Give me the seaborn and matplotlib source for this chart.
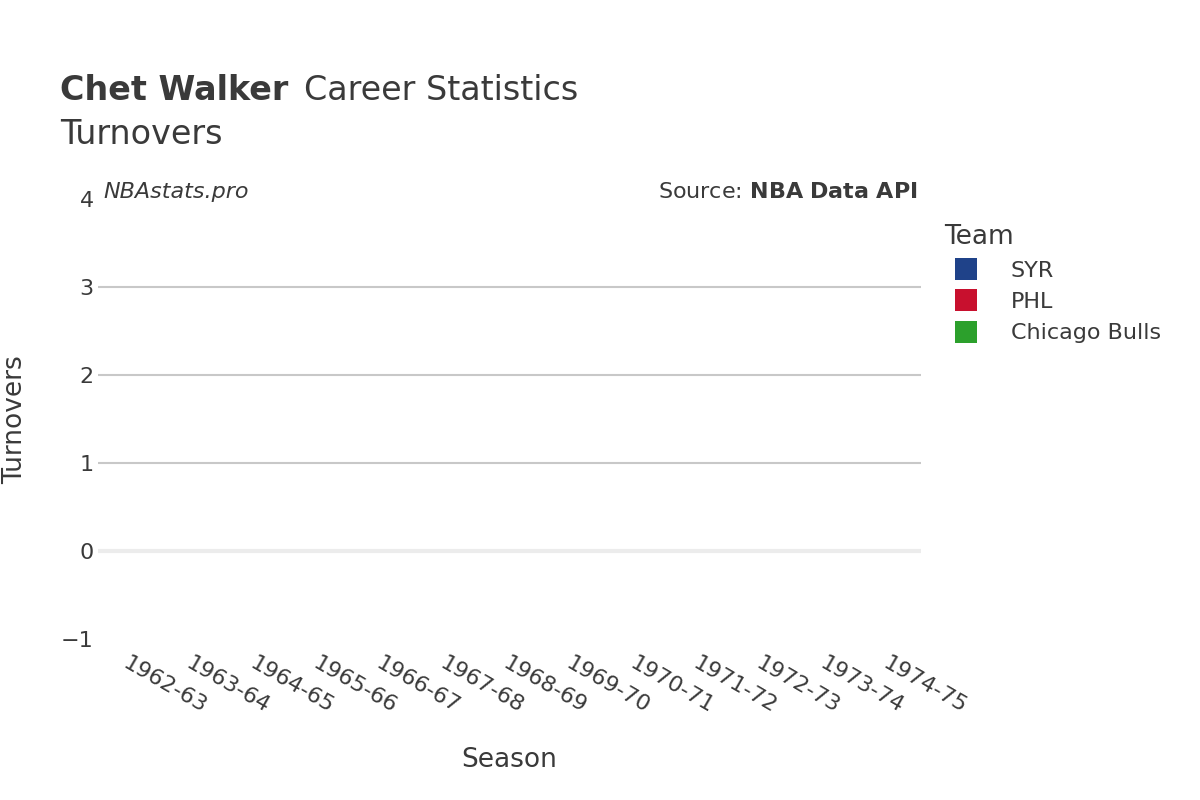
import matplotlib
matplotlib.use("Agg")
import matplotlib.pyplot as plt
import seaborn as sns
from matplotlib.lines import Line2D

# Chart data (no turnover values recorded for these seasons)
seasons = ["1962-63", "1963-64", "1964-65", "1965-66", "1966-67", "1967-68",
           "1968-69", "1969-70", "1970-71", "1971-72", "1972-73", "1973-74", "1974-75"]
teams = ["SYR", "PHL", "Chicago Bulls"]
team_colors = ["#1f4289", "#c8102e", "#2ca02c"]
y_ticks = [-1, 0, 1, 2, 3, 4]

sns.set_style("white")
plt.rcParams["font.family"] = "DejaVu Sans"
text_color = "#3a3a3a"

fig = plt.figure(figsize=(12, 8), dpi=100)
ax = fig.add_axes([0.0817, 0.201, 0.686, 0.55])

ax.set_xlim(-0.5, len(seasons) - 0.5)
ax.set_ylim(-1, 4)
ax.set_xticks(range(len(seasons)))
ax.set_xticklabels(seasons, rotation=-30, ha="left", rotation_mode="anchor",
                   fontsize=16, color=text_color)
ax.set_yticks(y_ticks)
ax.set_yticklabels(["\u22121", "0", "1", "2", "3", "4"], fontsize=16, color=text_color)
ax.tick_params(axis="y", length=0, pad=3)
ax.tick_params(axis="x", length=0, pad=10)

for y in [1, 2, 3]:
    ax.axhline(y, color="#c8c8c8", lw=1.5, zorder=0)
ax.axhline(0, color="#ececec", lw=3, zorder=0)
for s in ax.spines.values():
    s.set_visible(False)

ax.set_xlabel("Season", fontsize=19, color=text_color, labelpad=22)
ax.set_ylabel("Turnovers", fontsize=19, color=text_color, labelpad=24)

fig.text(0.05, 0.875, "Chet Walker", fontsize=24, fontweight="bold", color=text_color)
fig.text(0.253, 0.875, "Career Statistics", fontsize=24, color=text_color)
fig.text(0.05, 0.82, "Turnovers", fontsize=24, color=text_color)

ax.text(0.007, 1.016, "NBAstats.pro", transform=ax.transAxes, fontsize=16,
        style="italic", color=text_color, va="center")
ax.text(0.995, 1.016, r"Source: $\bf{NBA\ Data\ API}$", transform=ax.transAxes,
        fontsize=16, color=text_color, ha="right", va="center")

handles = [Line2D([0], [0], marker="s", color="w", markerfacecolor=c, markersize=16,
                  markeredgewidth=0) for c in team_colors]
leg = fig.legend(handles, teams, loc="upper left", bbox_to_anchor=(0.77, 0.745),
                 frameon=False, fontsize=16, title="Team", title_fontsize=19,
                 labelspacing=0.5, handletextpad=1.0, alignment="left")
for t in leg.get_texts():
    t.set_color(text_color)
leg.get_title().set_color(text_color)

fig.savefig("out.png", dpi=100)
